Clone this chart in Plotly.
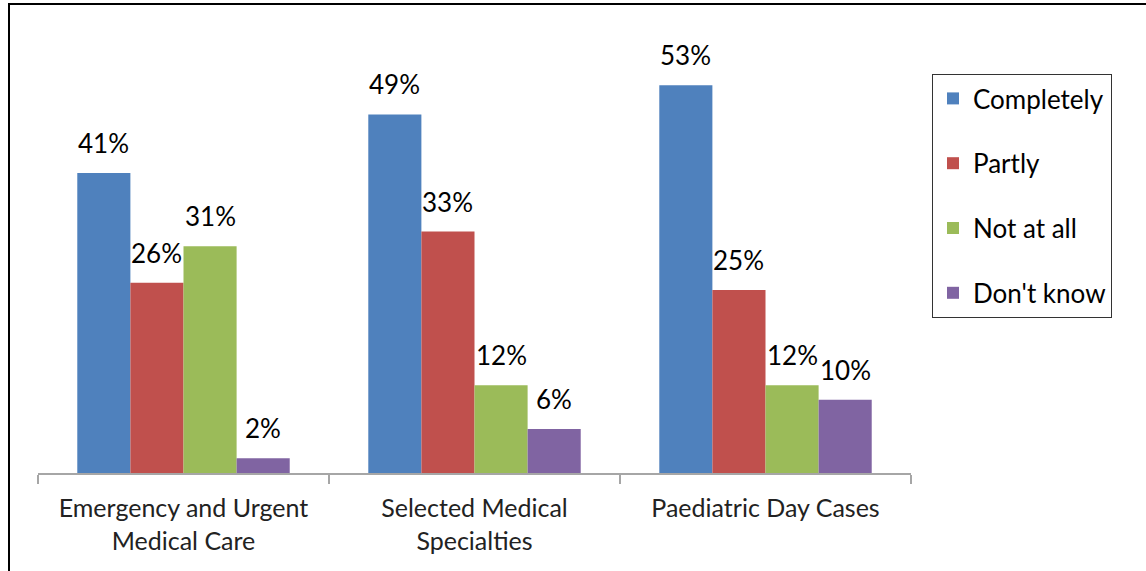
import plotly.graph_objects as go

# Survey results per service area
categories = ["Emergency and Urgent<br>Medical Care",
              "Selected Medical<br>Specialties",
              "Paediatric Day Cases"]
series_names = ["Completely", "Partly", "Not at all", "Don't know"]
completely = [41, 49, 53]
partly = [26, 33, 25]
not_at_all = [31, 12, 12]
dont_know = [2, 6, 10]
colors = ["#4F81BD", "#C0504D", "#9BBB59", "#8064A2"]

series_values = [completely, partly, not_at_all, dont_know]

FONT = "Lato"
FS_LABEL = 26
FS_TICK = 25
FS_LEGEND = 26

W, H = 1146, 571
M_L, M_R, M_T, M_B = 38, 235, 34, 98
plot_w = W - M_L - M_R
plot_h = H - M_T - M_B
Y_MAX = 60
BARGAP = 0.27

fig = go.Figure()
for i, (name, vals, col) in enumerate(zip(series_names, series_values, colors)):
    fig.add_trace(go.Bar(
        x=categories, y=vals, name=name, legendgroup=name,
        marker=dict(color=col, line=dict(width=0)),
        hoverinfo="x+y+name",
    ))

# value labels above each bar
cat_w = plot_w / len(categories)
bar_w = cat_w * (1 - BARGAP) / len(series_names)
annotations = []
for i, vals in enumerate(series_values):
    xshift = (i - (len(series_names) - 1) / 2) * bar_w
    for c, v in zip(categories, vals):
        annotations.append(dict(
            x=c, y=v, xref="x", yref="y", text=f"{v}%",
            showarrow=False, xanchor="center", yanchor="bottom",
            xshift=xshift, yshift=12,
            font=dict(family=FONT, size=FS_LABEL, color="#000000"),
        ))

def px_to_paper_x(px):
    return (px - M_L) / plot_w

def px_to_paper_y(py):
    return (H - M_B - py) / plot_h

# outer chart frame
shapes = [dict(type="rect", xref="paper", yref="paper",
               x0=px_to_paper_x(9), x1=px_to_paper_x(W + 20),
               y0=px_to_paper_y(H + 20), y1=px_to_paper_y(4),
               line=dict(color="#000000", width=2), fillcolor="rgba(0,0,0,0)",
               layer="above")]

fig.update_layout(
    width=W, height=H,
    margin=dict(l=M_L, r=M_R, t=M_T, b=M_B, pad=0),
    paper_bgcolor="white", plot_bgcolor="white",
    barmode="group", bargap=BARGAP, bargroupgap=0,
    font=dict(family=FONT, size=FS_TICK, color="#222222"),
    xaxis=dict(
        type="category", showline=True, linecolor="#A6A6A6", linewidth=2,
        ticks="outside", tickson="boundaries", ticklen=9, tickwidth=2,
        tickcolor="#A6A6A6", showgrid=False, zeroline=False,
        tickfont=dict(family=FONT, size=FS_TICK, color="#222222"),
        ticklabelstandoff=12,
        fixedrange=True,
    ),
    yaxis=dict(range=[0, Y_MAX], visible=False, showgrid=False,
               zeroline=False, fixedrange=True),
    legend=dict(
        x=px_to_paper_x(932), y=px_to_paper_y(74), xanchor="left", yanchor="top",
        bordercolor="#333333", borderwidth=1, bgcolor="white",
        font=dict(family=FONT, size=FS_LEGEND, color="#000000"),
        tracegroupgap=28, traceorder="grouped",
    ),
    annotations=annotations,
    shapes=shapes,
    showlegend=True,
)

fig.write_html("out.html")
